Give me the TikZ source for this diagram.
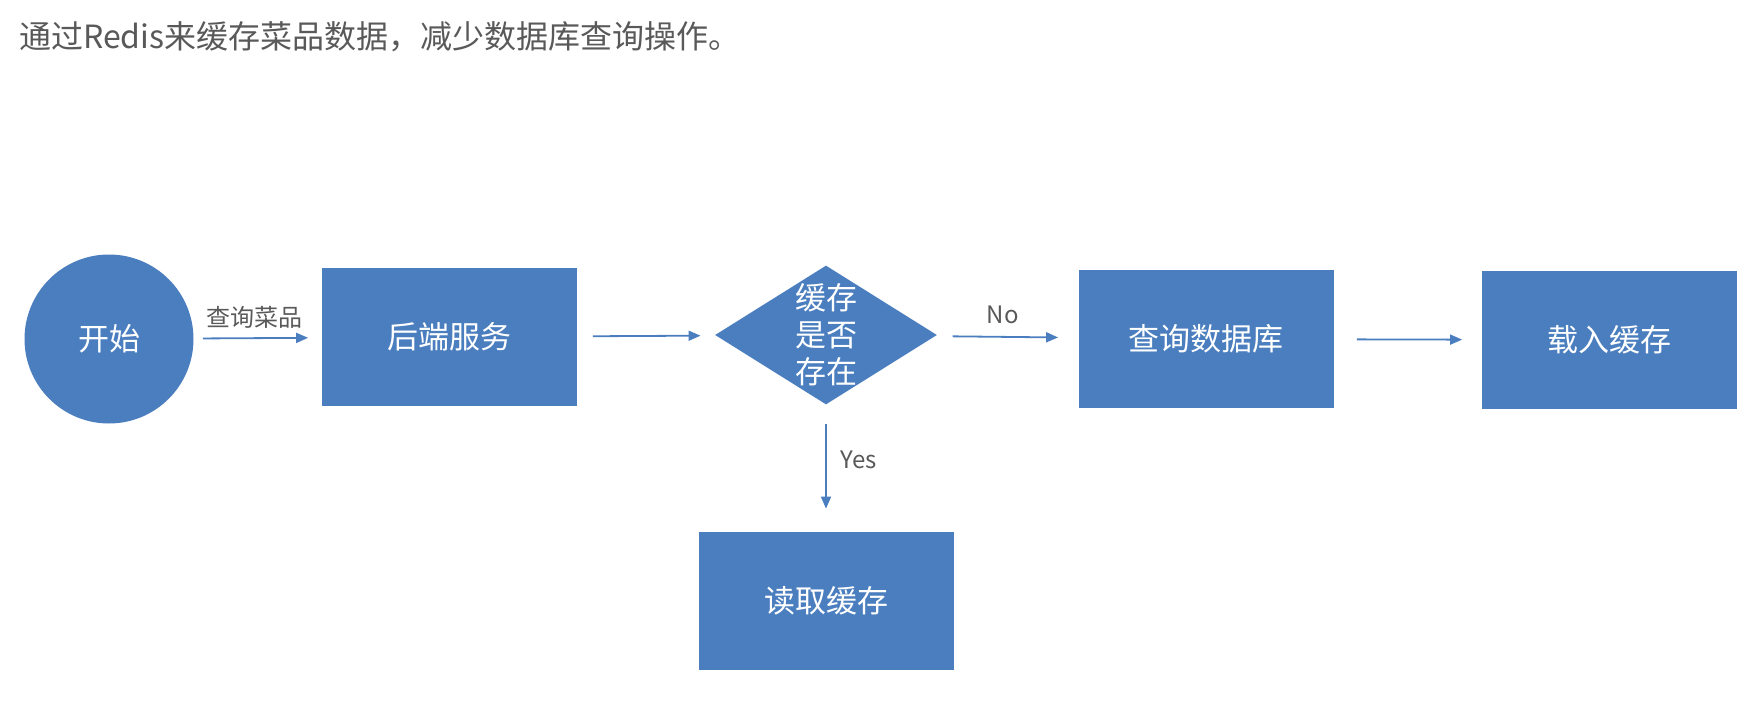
\documentclass[tikz,border=0pt]{standalone}
\usepackage{fontspec}
\setmainfont{Noto Sans CJK SC}
\usetikzlibrary{shapes.geometric,arrows.meta}
\definecolor{boxblue}{HTML}{4A7EBF}
\definecolor{titlegray}{HTML}{595959}

\begin{document}
\begin{tikzpicture}[
        x=0.5pt,
        y=-0.5pt,
        every node/.style={font=\fontsize{15.5pt}{18.5pt}\selectfont},
        terminal/.style={
            circle,
            fill=boxblue,
            text=white,
            minimum size=84.5pt,
            inner sep=0pt
        },
        proc/.style={
            rectangle,
            fill=boxblue,
            text=white,
            minimum width=127.5pt,
            minimum height=69pt,
            inner sep=0pt
        },
        decision/.style={
            diamond,
            fill=boxblue,
            minimum width=111pt,
            minimum height=69.5pt,
            inner sep=0pt
        },
        flow/.style={draw=boxblue, line width=0.9pt, -{Triangle[length=6pt,width=5pt]}},
        edge label/.style={font=\fontsize{12pt}{14pt}\selectfont, text=titlegray, inner sep=1pt}
    ]
    \useasboundingbox (0,0) rectangle (1750,722);

    % Title
    \node[anchor=west, font=\fontsize{16pt}{19pt}\selectfont, text=titlegray] (title) at (12,37)
        {通过Redis来缓存菜品数据，减少数据库查询操作。};

    % Flow
    \node[terminal] (begin) at (109,339) {开始};
    \node[proc] (backend) at (449,337) {后端服务};
    \node[decision] (check) at (826,335) {};
    \node[text=white, align=center] (checktext) at (check) {缓存\\是否\\存在};
    \node[proc] (querydb) at (1206,339) {查询数据库};
    \node[proc] (loadcache) at (1609,340) {载入缓存};
    \node[proc] (readcache) at (826,601) {读取缓存};

    \draw[flow, shorten <=4.5pt, shorten >=6.5pt] (begin) -- node[edge label, above=3.5pt, xshift=-1.5pt] {查询菜品} (backend);
    \draw[flow, shorten <=8pt, shorten >=7.5pt] (backend) -- (check);
    \draw[flow, shorten <=8.5pt, shorten >=10pt] (check) -- node[edge label, above=5pt, xshift=-2pt] {No} (querydb);
    \draw[flow, shorten <=11.5pt, shorten >=9.5pt] (querydb) -- (loadcache);

    % Yes branch
    \draw[flow, shorten <=9.5pt, shorten >=11.5pt] (check) -- node[edge label, right=6pt, yshift=4pt] {Yes} (readcache);

\end{tikzpicture}
\end{document}
